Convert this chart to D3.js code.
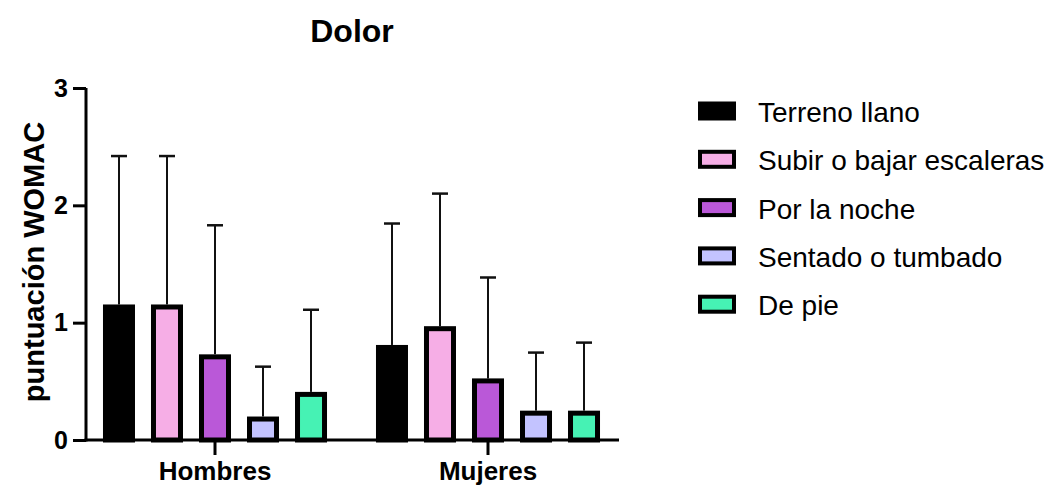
<!DOCTYPE html>
<html>
<head>
<meta charset="utf-8">
<script src="https://cdn.jsdelivr.net/npm/d3@7"></script>
<style>
  html, body { margin: 0; padding: 0; background: #fff; }
  svg { display: block; font-family: "Liberation Sans", Arial, sans-serif; }
</style>
</head>
<body>
<svg id="chart" width="1058" height="487"></svg>
<script>
const title = "Dolor";
const yLabel = "puntuación WOMAC";
const groups = ["Hombres", "Mujeres"];
const seriesNames = ["Terreno llano", "Subir o bajar escaleras", "Por la noche", "Sentado o tumbado", "De pie"];
const seriesColors = ["#000000", "#F6AEE6", "#BA58D8", "#C3C3FF", "#46F2B4"];
const meansHombres = [1.155, 1.155, 0.73, 0.2, 0.41];
const sdHombres = [1.265, 1.265, 1.10, 0.425, 0.70];
const meansMujeres = [0.81, 0.97, 0.525, 0.25, 0.25];
const sdMujeres = [1.035, 1.13, 0.86, 0.495, 0.58];
const yTicks = [0, 1, 2, 3];

const means = [meansHombres, meansMujeres];
const sds = [sdHombres, sdMujeres];

const svg = d3.select("#chart");

const y = d3.scaleLinear().domain([0, 3]).range([440, 88]);
const x0 = d3.scaleBand().domain(groups).range([78.5, 624.5]).padding(0);
const x1 = d3.scaleBand().domain(seriesNames).range([0, x0.bandwidth()])
  .paddingInner(1/3).paddingOuter(0.51);

const sw = 5;
const data = [];
groups.forEach((g, gi) => {
  seriesNames.forEach((s, si) => {
    data.push({ g, s, si, v: means[gi][si], e: sds[gi][si] });
  });
});

// error bars (upper only)
const eb = svg.append("g");
data.forEach(d => {
  const cx = x0(d.g) + x1(d.s) + x1.bandwidth() / 2;
  eb.append("line").attr("x1", cx).attr("x2", cx)
    .attr("y1", y(d.v)).attr("y2", y(d.v + d.e))
    .attr("stroke", "#111").attr("stroke-width", 2);
  eb.append("line").attr("x1", cx - 8).attr("x2", cx + 8)
    .attr("y1", y(d.v + d.e)).attr("y2", y(d.v + d.e))
    .attr("stroke", "#111").attr("stroke-width", 2.5);
});

// bars
svg.append("g").selectAll("rect").data(data).join("rect")
  .attr("x", d => x0(d.g) + x1(d.s) + sw / 2)
  .attr("width", x1.bandwidth() - sw)
  .attr("y", d => y(d.v) + sw / 2)
  .attr("height", d => Math.max(0, y(0) - y(d.v) - sw / 2))
  .attr("fill", d => seriesColors[d.si])
  .attr("stroke", "#000")
  .attr("stroke-width", sw);

// y axis
const yAxis = svg.append("g").attr("transform", "translate(86,0)")
  .call(d3.axisLeft(y).tickValues(yTicks).tickFormat(d3.format("d")).tickSize(13).tickPadding(5));
yAxis.select(".domain").attr("d", `M0,${y(3)}V${y(0) + 1.5}`).attr("stroke", "#000").attr("stroke-width", 3);
yAxis.selectAll(".tick line").attr("stroke", "#000").attr("stroke-width", 3);
yAxis.selectAll(".tick text").attr("font-size", 25).attr("font-weight", "bold")
  .attr("fill", "#000").attr("font-family", "Liberation Sans, Arial, sans-serif");

// x axis
const xAxis = svg.append("g").attr("transform", `translate(0,${y(0)})`)
  .call(d3.axisBottom(x0).tickSize(15).tickPadding(7));
xAxis.select(".domain").attr("d", "M84.5,0H619").attr("stroke", "#000").attr("stroke-width", 3);
xAxis.selectAll(".tick line").attr("stroke", "#000").attr("stroke-width", 3);
xAxis.selectAll(".tick text").attr("font-size", 26).attr("font-weight", "bold")
  .attr("fill", "#000").attr("font-family", "Liberation Sans, Arial, sans-serif");

// title
svg.append("text").attr("x", 352).attr("y", 42).attr("text-anchor", "middle")
  .attr("font-size", 32).attr("font-weight", "bold").text(title);

// y label
svg.append("text").attr("transform", "translate(44,262) rotate(-90)")
  .attr("text-anchor", "middle").attr("font-size", 29).attr("font-weight", "bold").text(yLabel);

// legend
const leg = svg.append("g");
seriesNames.forEach((s, i) => {
  const cy = 111 + i * 48.3;
  leg.append("rect").attr("x", 700).attr("y", cy - 7.5).attr("width", 34).attr("height", 15)
    .attr("fill", seriesColors[i]).attr("stroke", "#000").attr("stroke-width", 4);
  leg.append("text").attr("x", 758).attr("y", cy + 11).attr("font-size", 28).text(s);
});
</script>
</body>
</html>
